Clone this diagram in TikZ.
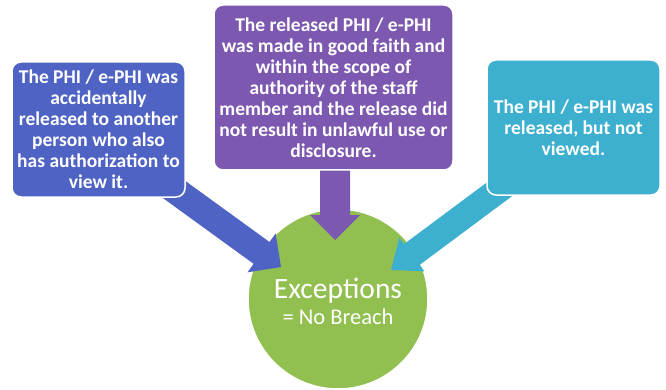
\documentclass[tikz,border=0pt]{standalone}
\usepackage{fontspec}
\setmainfont{Carlito}
\usetikzlibrary{calc}
\definecolor{cblue}{HTML}{4F63C4}
\definecolor{cpurple}{HTML}{7D58B0}
\definecolor{cteal}{HTML}{3DAFCF}
\definecolor{cgreen}{HTML}{92C050}
% #1 colour, #2 start, #3 tip, #4 shaft half width, #5 head half width, #6 head length
\newcommand{\blockarrow}[6]{%
  \coordinate (#2#3b) at ($(#3)!#6!(#2)$);
  \fill[#1] ($(#2)!#4!90:(#3)$) -- ($(#2#3b)!#4!90:(#3)$) -- ($(#2#3b)!#5!90:(#3)$)
    -- (#3) -- ($(#2#3b)!#5!-90:(#3)$) -- ($(#2#3b)!#4!-90:(#3)$) -- ($(#2)!#4!-90:(#3)$) -- cycle;}
\begin{document}
\begin{tikzpicture}[x=1pt,y=-1pt,
  box/.style={rectangle, rounded corners=9pt, draw=white, line width=1.5pt, text=white,
    align=center, inner sep=0pt, font=\bfseries\fontsize{19.5}{21}\selectfont},
  exctext/.style={text=white, anchor=base, inner sep=0pt}]
\useasboundingbox (0,0) rectangle (666,390);
\fill[white] (0,0) rectangle (666,390);
% circle
\node[circle, fill=cgreen, draw=white, line width=1.5pt, minimum size=180pt, inner sep=0pt] (exc) at (338,299) {};
% arrow endpoints
\coordinate (ls) at (150,172);
\coordinate (lt) at (281,267);
\coordinate (ms) at (335,150);
\coordinate (mt) at (335,240);
\coordinate (rs) at (520,174);
\coordinate (rt) at (391,270);
\blockarrow{cblue}{ls}{lt}{13.5pt}{24pt}{24pt}
\blockarrow{cpurple}{ms}{mt}{15pt}{25pt}{25pt}
\blockarrow{cteal}{rs}{rt}{13pt}{21pt}{26pt}
% boxes
\node[box, fill=cblue, minimum width=173pt, minimum height=135pt] (lbox) at (98.5,129.5)
  {The PHI / e-PHI was\\accidentally\\released to another\\person who also\\has authorization to\\view it.};
\node[box, fill=cpurple, minimum width=239pt, minimum height=165pt] (mbox) at (333.5,87.5)
  {The released PHI / e-PHI\\was made in good faith and\\within the scope of\\authority of the staff\\member and the release did\\not result in unlawful use or\\disclosure.};
\node[box, fill=cteal, minimum width=173pt, minimum height=135pt] (rbox) at (573.5,127.5)
  {The PHI / e-PHI was\\released, but not\\viewed.};
% circle text
\node[exctext, font=\fontsize{29.5}{31}\selectfont] (exc1) at (338,298) {Exceptions};
\node[exctext, font=\fontsize{22.5}{24}\selectfont] (exc2) at (338,324) {= No Breach};
\end{tikzpicture}
\end{document}
